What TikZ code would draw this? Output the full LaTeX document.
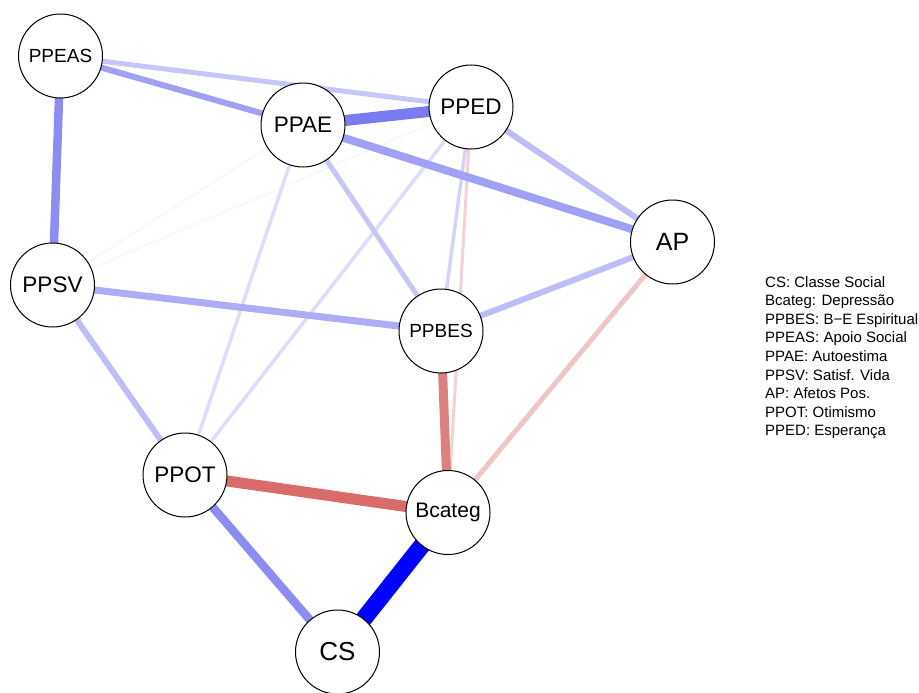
\documentclass[tikz,border=0pt]{standalone}
\usepackage{fontspec}
\setmainfont{Liberation Sans}
\usetikzlibrary{backgrounds}
\definecolor{cA}{HTML}{F6F6FB}
\definecolor{cB}{HTML}{DCDCFB}
\definecolor{cC}{HTML}{D4D4FA}
\definecolor{cD}{HTML}{C6C6F8}
\definecolor{cE}{HTML}{BDBDF7}
\definecolor{cF}{HTML}{ADADF6}
\definecolor{cG}{HTML}{A0A0F5}
\definecolor{cH}{HTML}{8C8CF3}
\definecolor{cI}{HTML}{7B7BF0}
\definecolor{cJ}{HTML}{0000FF}
\definecolor{rA}{HTML}{F2D2D2}
\definecolor{rB}{HTML}{EFC6C6}
\definecolor{rC}{HTML}{D98080}
\definecolor{rD}{HTML}{D96B6B}
\begin{document}
\begin{tikzpicture}[x=1pt,y=-1pt,
  vnode/.style={circle,draw=black,line width=1pt,fill=white,minimum size=84pt,inner sep=0pt},
  edge/.style={line cap=butt}]
\useasboundingbox (0,0) rectangle (919,693);
\node[vnode,font=\fontsize{19}{19}\selectfont] (PPEAS) at (60.5,56) {PPEAS};
\node[vnode,font=\fontsize{22.5}{22.5}\selectfont] (PPAE) at (303,125) {PPAE};
\node[vnode,font=\fontsize{22.5}{22.5}\selectfont] (PPED) at (471,107) {PPED};
\node[vnode,font=\fontsize{25}{25}\selectfont] (AP) at (672.5,242) {AP};
\node[vnode,font=\fontsize{22.5}{22.5}\selectfont] (PPSV) at (52.5,285) {PPSV};
\node[vnode,font=\fontsize{19}{19}\selectfont] (PPBES) at (441,331) {PPBES};
\node[vnode,font=\fontsize{22.5}{22.5}\selectfont] (PPOT) at (185,475) {PPOT};
\node[vnode,font=\fontsize{21}{21}\selectfont] (Bcateg) at (448,512.5) {Bcateg};
\node[vnode,font=\fontsize{26}{26}\selectfont] (CS) at (337.5,652) {CS};
\begin{scope}[on background layer]
\draw[edge,line width=1.5pt,cA] (PPSV.center) -- (PPAE.center);
\draw[edge,line width=1.5pt,cA] (PPSV.center) -- (PPED.center);
\draw[edge,line width=3pt,rA] (PPED.center) -- (Bcateg.center);
\draw[edge,line width=3.5pt,cB] (PPED.center) -- (PPOT.center);
\draw[edge,line width=3.5pt,cB] (PPAE.center) -- (PPOT.center);
\draw[edge,line width=3.5pt,cC] (PPED.center) -- (PPBES.center);
\draw[edge,line width=5pt,rB] (AP.center) -- (Bcateg.center);
\draw[edge,line width=5pt,cD] (PPEAS.center) -- (PPED.center);
\draw[edge,line width=5pt,cD] (PPAE.center) -- (PPBES.center);
\draw[edge,line width=6pt,cE] (PPED.center) -- (AP.center);
\draw[edge,line width=6pt,cE] (AP.center) -- (PPBES.center);
\draw[edge,line width=6pt,cE] (PPSV.center) -- (PPOT.center);
\draw[edge,line width=7pt,cF] (PPSV.center) -- (PPBES.center);
\draw[edge,line width=6pt,cG] (PPEAS.center) -- (PPAE.center);
\draw[edge,line width=8pt,cG] (PPAE.center) -- (AP.center);
\draw[edge,line width=8.5pt,cH] (PPEAS.center) -- (PPSV.center);
\draw[edge,line width=8.5pt,cH] (PPOT.center) -- (CS.center);
\draw[edge,line width=9pt,rC] (PPBES.center) -- (Bcateg.center);
\draw[edge,line width=11pt,cI] (PPAE.center) -- (PPED.center);
\draw[edge,line width=11pt,rD] (PPOT.center) -- (Bcateg.center);
\draw[edge,line width=17pt,cJ] (Bcateg.center) -- (CS.center);
\end{scope}
\node[anchor=north west,inner sep=0pt,align=left,font=\fontsize{15}{18.6}\selectfont] (legend) at (765,276)
  {CS: Classe Social\\Bcateg: Depressão\\PPBES: B−E Espiritual\\PPEAS: Apoio Social\\PPAE: Autoestima\\PPSV: Satisf. Vida\\AP: Afetos Pos.\\PPOT: Otimismo\\PPED: Esperança};
\end{tikzpicture}
\end{document}
